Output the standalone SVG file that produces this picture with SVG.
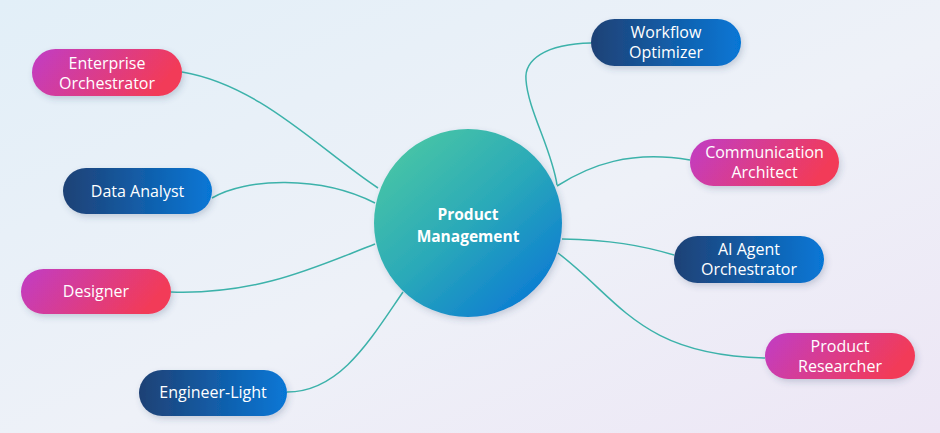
<svg xmlns="http://www.w3.org/2000/svg" width="940" height="433" viewBox="0 0 940 433">
<defs>
<linearGradient id="bg" x1="0" y1="0" x2="1" y2="1">
<stop offset="0" stop-color="#e2eff8"/>
<stop offset="0.55" stop-color="#eef1f8"/>
<stop offset="1" stop-color="#ede6f5"/>
</linearGradient>
<linearGradient id="pink" x1="0" y1="0" x2="1" y2="0.25">
<stop offset="0" stop-color="#c03cc6"/>
<stop offset="1" stop-color="#f23b58"/>
</linearGradient>
<linearGradient id="blue" x1="0" y1="0" x2="1" y2="0">
<stop offset="0" stop-color="#1f4175"/>
<stop offset="1" stop-color="#0677d6"/>
</linearGradient>
<linearGradient id="hub" x1="0.15" y1="0.1" x2="0.85" y2="0.9">
<stop offset="0" stop-color="#47c4a6"/>
<stop offset="0.5" stop-color="#2aa9b9"/>
<stop offset="1" stop-color="#0d7dd2"/>
</linearGradient>
<filter id="sh" x="-20%" y="-30%" width="140%" height="170%">
<feDropShadow dx="2" dy="3" stdDeviation="3" flood-color="#3a4a70" flood-opacity="0.22"/>
</filter>
</defs>
<style>
.pill text{font-family:"Open Sans","Noto Sans","Liberation Sans",sans-serif;font-size:16px;fill:#ffffff;text-anchor:middle}
.conn path{fill:none;stroke:#3cb2aa;stroke-width:1.5}
.hubtxt{font-family:"Open Sans","Noto Sans","Liberation Sans",sans-serif;font-size:15.5px;font-weight:bold;fill:#ffffff;text-anchor:middle}
</style>
<rect width="940" height="433" fill="url(#bg)"/>
<g id="connectors" class="conn">
<path d="M182,72 C260,85 320,150 378,188"/>
<path d="M212,198 C245,178 320,175 375,203"/>
<path d="M171,292 C260,295 320,265 375,244"/>
<path d="M287,392 C340,392 370,340 403,292"/>
<path d="M591,43 C545,44 524,60 526,80 C528,110 552,150 557,185"/>
<path d="M557,186 C590,165 630,150 690,160"/>
<path d="M562,239 C610,240 640,245 674,255"/>
<path d="M558,253 C620,300 640,355 765,358"/>
</g>
<g id="hub">
<circle cx="468" cy="223" r="94" fill="url(#hub)" filter="url(#sh)"/>
<text class="hubtxt" x="468" y="220">Product</text>
<text class="hubtxt" x="468" y="242">Management</text>
</g>
<g id="enterprise-orchestrator" class="pill">
<rect x="32" y="49" width="150" height="47" rx="23.5" fill="url(#pink)" filter="url(#sh)"/>
<text x="107" y="69">Enterprise</text>
<text x="107" y="89">Orchestrator</text>
</g>
<g id="data-analyst" class="pill">
<rect x="63" y="168" width="149" height="46" rx="23" fill="url(#blue)" filter="url(#sh)"/>
<text x="137.5" y="197">Data Analyst</text>
</g>
<g id="designer" class="pill">
<rect x="21" y="269" width="150" height="45" rx="22.5" fill="url(#pink)" filter="url(#sh)"/>
<text x="96" y="297">Designer</text>
</g>
<g id="engineer-light" class="pill">
<rect x="139" y="370" width="148" height="46" rx="23" fill="url(#blue)" filter="url(#sh)"/>
<text x="213" y="398">Engineer-Light</text>
</g>
<g id="workflow-optimizer" class="pill">
<rect x="591" y="19" width="150" height="47" rx="23.5" fill="url(#blue)" filter="url(#sh)"/>
<text x="666" y="38">Workflow</text>
<text x="666" y="58">Optimizer</text>
</g>
<g id="communication-architect" class="pill">
<rect x="690" y="139" width="149" height="47" rx="23.5" fill="url(#pink)" filter="url(#sh)"/>
<text x="764.5" y="158">Communication</text>
<text x="764.5" y="178">Architect</text>
</g>
<g id="ai-agent-orchestrator" class="pill">
<rect x="674" y="236" width="150" height="47" rx="23.5" fill="url(#blue)" filter="url(#sh)"/>
<text x="749" y="255">AI Agent</text>
<text x="749" y="275">Orchestrator</text>
</g>
<g id="product-researcher" class="pill">
<rect x="765" y="333" width="150" height="46" rx="23" fill="url(#pink)" filter="url(#sh)"/>
<text x="840" y="352">Product</text>
<text x="840" y="372">Researcher</text>
</g>
</svg>
